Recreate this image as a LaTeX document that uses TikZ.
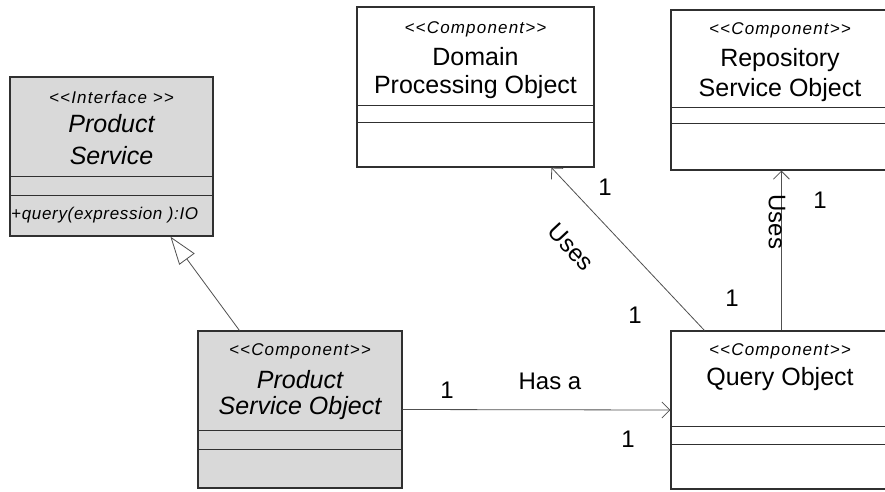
\documentclass[tikz,border=0pt]{standalone}
\usepackage{fontspec}
\setmainfont{Liberation Sans}
\usetikzlibrary{arrows.meta}
\definecolor{boxgray}{HTML}{D9D9D9}
\definecolor{edgecol}{HTML}{303030}
\definecolor{linecol}{HTML}{505050}
\tikzset{
  cls/.style={draw=edgecol, line width=1.2pt, rectangle, inner sep=0pt},
  grayfill/.style={fill=boxgray},
  whitefill/.style={fill=white},
  sep/.style={draw=edgecol, line width=1.1pt},
  stereo/.style={font=\fontsize{17}{20}\selectfont\itshape\addfontfeature{LetterSpace=7}, inner sep=0pt},
  clsname/.style={font=\fontsize{25}{30}\selectfont, inner sep=0pt},
  iclsname/.style={font=\fontsize{25}{30}\selectfont\itshape, inner sep=0pt},
  oper/.style={font=\fontsize{17}{20}\selectfont\itshape\addfontfeature{LetterSpace=4}, inner sep=0pt},
  lbl/.style={font=\fontsize{24}{28}\selectfont, inner sep=0pt},
  conn/.style={draw=linecol, line width=0.8pt},
  openarrow/.style={-{Straight Barb[length=8pt,width=16pt,line width=0.8pt]}},
  genarrow/.style={-{Triangle[open,length=28pt,width=19pt,line width=0.8pt,fill=white]}}
}
\newcommand{\stL}{{<}{<}}
\newcommand{\stR}{{>}{>}}
\begin{document}
\begin{tikzpicture}[x=1pt,y=-1pt]
\clip (0,0) rectangle (885,491);
\fill[white] (0,0) rectangle (885,491);

% Product Service (interface)
\node[cls, grayfill, minimum width=203pt, minimum height=159pt] (ps) at (111.5,156.5) {};
\draw[sep] ([yshift=-100pt]ps.north west) -- ([yshift=-100pt]ps.north east);
\draw[sep] ([yshift=-119pt]ps.north west) -- ([yshift=-119pt]ps.north east);
\node[stereo] (psst) at (111.5,97) {\stL Interface \stR};
\node[iclsname] (psn1) at (111.5,124) {Product};
\node[iclsname] (psn2) at (111.5,156) {Service};
\node[oper, anchor=west] (psop) at (11,215) {+query(expression ):IO};

% Product Service Object
\node[cls, grayfill, minimum width=204pt, minimum height=157pt] (pso) at (300,409.5) {};
\draw[sep] ([yshift=-100pt]pso.north west) -- ([yshift=-100pt]pso.north east);
\draw[sep] ([yshift=-119pt]pso.north west) -- ([yshift=-119pt]pso.north east);
\node[stereo] (psost) at (300,351) {\stL Component\stR};
\node[iclsname] (pson1) at (300,380) {Product};
\node[iclsname] (pson2) at (300,408) {Service Object};

% Domain Processing Object
\node[cls, whitefill, minimum width=237pt, minimum height=160pt] (dpo) at (475.5,87) {};
\draw[sep] ([yshift=-99pt]dpo.north west) -- ([yshift=-99pt]dpo.north east);
\draw[sep] ([yshift=-116pt]dpo.north west) -- ([yshift=-116pt]dpo.north east);
\node[stereo] (dpost) at (475.5,29) {\stL Component\stR};
\node[clsname] (dpon1) at (475.5,57) {Domain};
\node[clsname] (dpon2) at (475.5,87) {Processing Object};

% Repository Service Object
\node[cls, whitefill, minimum width=218pt, minimum height=160pt] (rso) at (780,90) {};
\draw[sep] ([yshift=-98pt]rso.north west) -- ([yshift=-98pt]rso.north east);
\draw[sep] ([yshift=-114pt]rso.north west) -- ([yshift=-114pt]rso.north east);
\node[stereo] (rsost) at (780,30) {\stL Component\stR};
\node[clsname] (rson1) at (780,60) {Repository};
\node[clsname] (rson2) at (780,90) {Service Object};

% Query Object
\node[cls, whitefill, minimum width=218pt, minimum height=158pt] (qo) at (780,410) {};
\draw[sep] ([yshift=-96pt]qo.north west) -- ([yshift=-96pt]qo.north east);
\draw[sep] ([yshift=-114pt]qo.north west) -- ([yshift=-114pt]qo.north east);
\node[stereo] (qost) at (780,351) {\stL Component\stR};
\node[clsname] (qon) at (780,379) {Query Object};

% Connectors
\draw[conn, genarrow] ([xshift=42pt]pso.north west) -- ([xshift=161pt]ps.south west);
\draw[conn, openarrow] (pso.east) -- (qo.west);
\draw[conn, openarrow] ([xshift=34pt]qo.north west) -- ([xshift=195pt]dpo.south west);
\draw[conn, openarrow] ([xshift=111pt]qo.north west) -- ([xshift=111pt]rso.south west);

% Labels
\node[lbl] (m1) at (447,390) {1};
\node[lbl] (has) at (550,381) {Has a};
\node[lbl] (m2) at (628,439) {1};
\node[lbl] (m3) at (605,187) {1};
\node[lbl, rotate=-47] (uses1) at (571,247) {Uses};
\node[lbl] (m4) at (635,315) {1};
\node[lbl] (m5) at (732,298) {1};
\node[lbl, rotate=-90] (uses2) at (777,222) {Uses};
\node[lbl] (m6) at (820,200) {1};
\end{tikzpicture}
\end{document}
